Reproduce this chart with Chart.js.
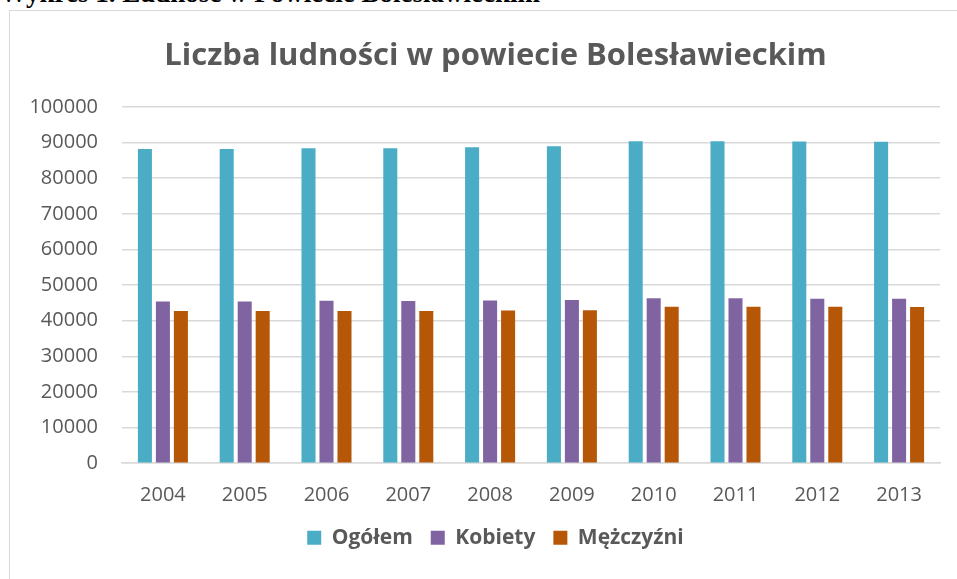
<!DOCTYPE html>
<html>
<head>
<meta charset="utf-8">
<script src="https://cdn.jsdelivr.net/npm/chart.js@4/dist/chart.umd.min.js"></script>
<style>
  html, body { margin: 0; padding: 0; background: #fff; overflow: hidden; width: 957px; height: 579px; }
  #cap { position: absolute; left: 0; top: -22px; font: bold 27px "Liberation Serif", "Times New Roman", serif; color: #000; white-space: nowrap; }
  #box { position: absolute; left: 9px; top: 10px; width: 964px; height: 580px; border: 1px solid #d9d9d9; box-sizing: border-box; }
  #wrap { position: absolute; left: 0; top: 0; width: 963px; height: 569px; }
</style>
</head>
<body>
<div id="cap">Wykres 1. Ludność w Powiecie Bolesławieckim</div>
<div id="box"><div id="wrap"><canvas id="c"></canvas></div></div>
<script>
const years = ['2004','2005','2006','2007','2008','2009','2010','2011','2012','2013'];
const ogolem = [88200, 88200, 88400, 88400, 88700, 89000, 90400, 90400, 90300, 90250];
const kobiety = [45400, 45400, 45600, 45550, 45700, 45850, 46300, 46300, 46200, 46200];
const mezczyzni = [42700, 42700, 42700, 42700, 42850, 42950, 43900, 43900, 43900, 43850];
const seriesNames = ['Ogółem', 'Kobiety', 'Mężczyźni'];
const yMin = 0, yMax = 100000, yStep = 10000;

const FONT = '"Open Sans", "DejaVu Sans", sans-serif';
const GRAY = '#595959';

new Chart(document.getElementById('c'), {
  type: 'bar',
  data: {
    labels: years,
    datasets: [
      { label: seriesNames[0], data: ogolem, backgroundColor: '#4BACC6', yAxisID: 'y' },
      { label: seriesNames[1], data: kobiety, backgroundColor: '#8064A2', yAxisID: 'y' },
      { label: seriesNames[2], data: mezczyzni, backgroundColor: '#B65708', yAxisID: 'y' }
    ]
  },
  options: {
    responsive: true,
    maintainAspectRatio: false,
    animation: false,
    devicePixelRatio: 1,
    layout: { padding: { left: 10, right: 2, top: 26.4, bottom: 21.8 } },
    datasets: { bar: { categoryPercentage: 0.66, barPercentage: 0.78 } },
    plugins: {
      title: {
        display: true,
        text: 'Liczba ludności w powiecie Bolesławieckim',
        color: GRAY,
        font: { family: FONT, size: 31, weight: 'bold' },
        padding: { top: 0, bottom: 32.4 }
      },
      legend: {
        position: 'bottom',
        labels: {
          color: GRAY,
          font: { family: FONT, size: 21, weight: 'bold' },
          boxWidth: 14, boxHeight: 14,
          padding: 18
        }
      },
      tooltip: { enabled: false }
    },
    scales: {
      x: {
        afterFit: (s) => { s.height = 46; },
        grid: { display: false, drawTicks: false },
        border: { display: true, color: '#d9d9d9', width: 1.5 },
        ticks: { color: GRAY, font: { family: FONT, size: 20 }, padding: 20 }
      },
      y: {
        position: 'left',
        min: yMin, max: yMax,
        afterFit: (s) => { s.width = 102; },
        grid: { color: '#d9d9d9', lineWidth: 1.5, drawTicks: false },
        border: { display: false },
        ticks: {
          stepSize: yStep, color: GRAY, font: { family: FONT, size: 20 }, padding: 24,
          callback: (v) => String(v)
        }
      },
      yRight: {
        position: 'right',
        display: true,
        afterFit: (s) => { s.width = 31; },
        grid: { display: false, drawTicks: false },
        border: { display: false },
        ticks: { display: false }
      }
    }
  }
});
</script>
</body>
</html>
